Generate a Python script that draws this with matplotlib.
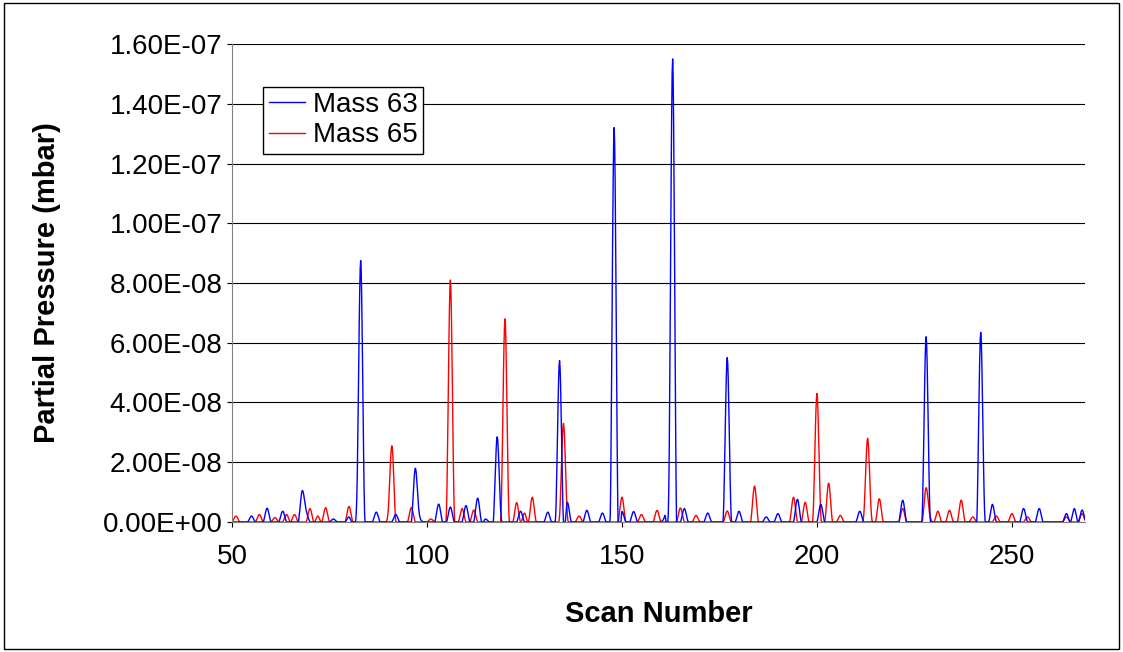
import matplotlib.pyplot as plt
import numpy as np
from matplotlib.ticker import FuncFormatter

plt.rcParams['font.family'] = ['Liberation Sans', 'DejaVu Sans']

# (scan, partial pressure) points; everything else is zero
m63_scans = [55, 59, 63, 68, 69, 76, 80, 82, 83, 84, 87, 92, 97, 98, 103, 106, 110, 113, 115,
             118, 119, 124, 131, 133, 134, 136, 141, 145, 147, 148, 150, 153, 161, 162, 163, 166,
             172, 176, 177, 178, 180, 187, 190, 195, 201, 211, 222, 227, 228, 229, 242, 243,
             245, 253, 257, 264, 266, 268]
m63_vals = [2.0e-9, 4.6e-9, 3.6e-9, 10.5e-9, 4e-9, 1.0e-9, 1.7e-9, 8.0e-9, 8.75e-8, 3e-9, 3.3e-9,
            2.5e-9, 18e-9, 3e-9, 6.0e-9, 5.0e-9, 5.5e-9, 8.0e-9, 1.0e-9,
            2.85e-8, 2e-9, 3.6e-9, 3.3e-9, 2e-9, 5.4e-8, 6.6e-9, 3.9e-9, 3.0e-9, 2e-9, 1.32e-7,
            3.5e-9, 3.5e-9, 2.2e-9, 10e-9, 1.55e-7, 4.5e-9,
            3.0e-9, 2.0e-9, 5.5e-8, 2e-9, 3.6e-9, 1.7e-9, 2.8e-9, 7.6e-9, 5.9e-9, 3.6e-9, 7.3e-9,
            2e-9, 6.2e-8, 2.2e-9, 6.35e-8, 3.6e-9, 5.9e-9, 4.5e-9, 4.5e-9, 2.8e-9, 4.5e-9, 4e-9]

m65_scans = [51, 57, 61, 64, 66, 70, 72, 74, 80, 90, 91, 96, 101, 105, 106, 107, 109, 112, 119,
             120, 121, 123, 125, 127, 134, 135, 136, 139, 150, 155, 159, 165, 169, 177, 184, 194,
             197, 199, 200, 201, 203, 206, 212, 213, 214, 216, 222, 228, 229, 231, 234, 237,
             240, 246, 250, 254, 264, 268]
m65_vals = [2.0e-9, 2.5e-9, 1.5e-9, 2.5e-9, 2.5e-9, 4.5e-9, 2.0e-9, 4.8e-9, 5.2e-9, 3e-9, 2.55e-8,
            4.8e-9, 1.0e-9, 4e-9, 8.1e-8, 3e-9, 4.5e-9, 4.0e-9, 3e-9,
            6.8e-8, 3e-9, 6.5e-9, 3.0e-9, 8.3e-9, 2e-9, 3.3e-8, 2.3e-9, 2e-9, 8.3e-9, 2.5e-9,
            3.9e-9, 4.7e-9, 2.2e-9, 3.7e-9, 1.2e-8, 8.3e-9,
            6.6e-9, 2e-9, 4.3e-8, 2e-9, 1.3e-8, 2.2e-9, 2.2e-9, 2.8e-8, 2e-9, 7.8e-9, 4.5e-9,
            1.15e-8, 2e-9, 3.6e-9, 3.9e-9, 7.3e-9, 1.7e-9, 2.0e-9, 2.8e-9, 1.7e-9, 1.7e-9, 2.8e-9]

scans = np.arange(50, 270)


def series(sc, vals):
    y = np.zeros(len(scans))
    for s, v in zip(sc, vals):
        y[s - 50] = v
    return y


def smooth(x, y, n=8):
    # Catmull-Rom like Excel's smoothed line
    xs, ys = [], []
    px = np.concatenate([[x[0]], x, [x[-1]]])
    py = np.concatenate([[y[0]], y, [y[-1]]])
    t = np.linspace(0, 1, n, endpoint=False)
    for i in range(1, len(px) - 2):
        p0, p1, p2, p3 = py[i - 1], py[i], py[i + 1], py[i + 2]
        ys.append(0.5 * (2 * p1 + (-p0 + p2) * t + (2 * p0 - 5 * p1 + 4 * p2 - p3) * t ** 2
                         + (-p0 + 3 * p1 - 3 * p2 + p3) * t ** 3))
        xs.append(px[i] + (px[i + 1] - px[i]) * t)
    return np.concatenate(xs), np.clip(np.concatenate(ys), 0, None)


fig = plt.figure(figsize=(11.23, 6.52), dpi=100)
ax = fig.add_axes([0.2066, 0.1994, 0.7594, 0.7331])
fig.patches.append(plt.Rectangle((0.004, 0.004), 0.992, 0.992, transform=fig.transFigure,
                                 fill=False, edgecolor='black', linewidth=1))

x1, y1 = smooth(scans, series(m63_scans, m63_vals))
x2, y2 = smooth(scans, series(m65_scans, m65_vals))
ax.plot(x2, y2, color='#ff0000', linewidth=1, label='Mass 65')
ax.plot(x1, y1, color='#0000ff', linewidth=1, label='Mass 63')

ax.set_xlim(50, 268.7)
ax.set_ylim(0, 1.6e-7)
ax.set_xticks([50, 100, 150, 200, 250])
ax.set_yticks(np.arange(0, 1.61e-7, 2e-8))
ax.yaxis.set_major_formatter(FuncFormatter(lambda v, p: f"{v:.2E}"))
ax.tick_params(labelsize=20)
ax.tick_params(axis='x', pad=12)
ax.grid(axis='y', color='black', linewidth=0.8)
for s in ['top', 'right']:
    ax.spines[s].set_visible(False)
ax.spines['left'].set_color('#808080')
ax.spines['bottom'].set_color('#808080')
ax.set_xlabel('Scan Number', fontsize=21, fontweight='bold', labelpad=22)
ax.set_ylabel('Partial Pressure (mbar)', fontsize=21, fontweight='bold', labelpad=30)

h, l = ax.get_legend_handles_labels()
leg = ax.legend(h[::-1], l[::-1], loc='upper left', bbox_to_anchor=(0.02, 0.94), fontsize=20,
                frameon=True, fancybox=False, edgecolor='black', framealpha=1,
                handlelength=1.3, handletextpad=0.3, borderpad=0.2, labelspacing=0.15)
leg.get_frame().set_linewidth(1)

fig.savefig('out.png', dpi=100)
